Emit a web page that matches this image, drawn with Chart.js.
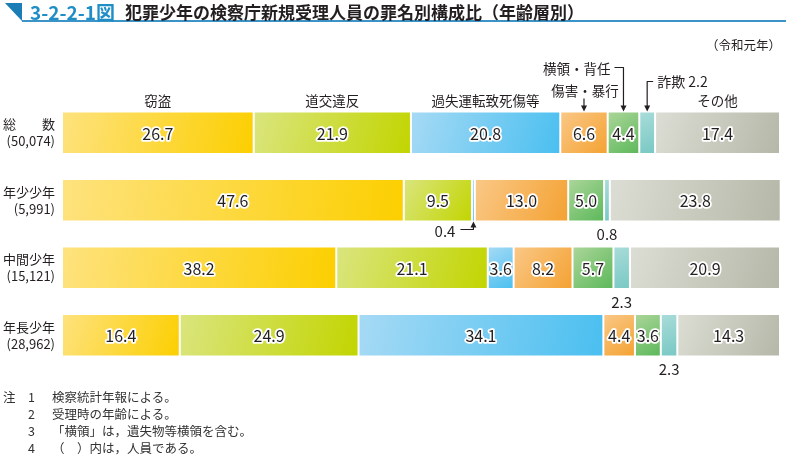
<!DOCTYPE html>
<html>
<head>
<meta charset="utf-8">
<script src="https://cdn.jsdelivr.net/npm/chart.js@4/dist/chart.umd.min.js"></script>
<style>
    body { margin: 0; width: 786px; height: 457px; background: #fff; position: relative; overflow: hidden;
        font-family: "Noto Sans CJK JP", "Noto Sans", sans-serif; color: #231f20; }
    #wrap { position: absolute; left: 0; top: 0; width: 786px; height: 457px; }
    .abs { position: absolute; white-space: nowrap; }
    #tri { left: 5px; top: 3px; width: 0; height: 0; border-top: 18px solid #1b7db5; border-left: 17px solid transparent; }
    #rule { left: 22px; top: 20px; width: 764px; height: 2px; background: #3b93c8; }
    #fig { left: 30px; top: 0px; font-size: 19px; font-weight: bold; color: #1f8dc6; line-height: 24px; }
    #title { left: 125px; top: 1px; font-size: 17px; font-weight: bold; line-height: 22px; }
    #year { right: 5px; top: 37px; font-size: 12.5px; line-height: 16px; }
    #notes { left: 3px; top: 388px; font-size: 12.5px; line-height: 17px; color: #333; }
    #notes span { display: inline-block; }
</style>
</head>
<body>
<div id="wrap"><canvas id="chart" width="786" height="457"></canvas></div>
<div class="abs" id="tri"></div>
<div class="abs" id="rule"></div>
<div class="abs" id="fig">3-2-2-1図</div>
<div class="abs" id="title">犯罪少年の検察庁新規受理人員の罪名別構成比（年齢層別）</div>
<div class="abs" id="year">（令和元年）</div>
<div class="abs" id="notes">
    <div><span style="width:25px">注</span><span style="width:24px">1</span>検察統計年報による。</div>
    <div><span style="width:25px"></span><span style="width:24px">2</span>受理時の年齢による。</div>
    <div><span style="width:25px"></span><span style="width:24px">3</span>「横領」は，遺失物等横領を含む。</div>
    <div><span style="width:25px"></span><span style="width:24px">4</span>（　）内は，人員である。</div>
</div>
<script>
// 年齢層 (人員)
const ageGroups = [["総　　数", "(50,074)"], ["年少少年", "(5,991)"], ["中間少年", "(15,121)"], ["年長少年", "(28,962)"]];
const crimeNames = ["窃盗", "道交違反", "過失運転致死傷等", "傷害・暴行", "横領・背任", "詐欺", "その他"];

// 構成比 (%)
const theft = [26.7, 47.6, 38.2, 16.4];
const traffic = [21.9, 9.5, 21.1, 24.9];
const negligentDriving = [20.8, 0.4, 3.6, 34.1];
const assault = [6.6, 13.0, 8.2, 4.4];
const embezzlement = [4.4, 5.0, 5.7, 3.6];
const fraud = [2.2, 0.8, 2.3, 2.3];
const others = [17.4, 23.8, 20.9, 14.3];

const seriesValues = [theft, traffic, negligentDriving, assault, embezzlement, fraud, others];
// light -> dark gradient stops
const colorStops = [
    ["#fee27e", "#fccf00"],
    ["#dae57e", "#c2d500"],
    ["#a6daf5", "#4abff0"],
    ["#fac887", "#f4a232"],
    ["#acd69a", "#5cb85a"],
    ["#a9dcd9", "#78c8c4"],
    ["#dcddd4", "#b5b8a8"]
];

function barFill(ctx) {
    const chart = ctx.chart;
    const d = ctx.datasetIndex;
    const i = ctx.dataIndex;
    const stops = colorStops[d];
    const xs = chart.scales.x;
    const ys = chart.scales.y;
    if (ctx.type !== "data" || !xs || !ys || !chart.chartArea) return stops[1];
    let start = 0;
    for (let k = 0; k < d; k++) start += seriesValues[k][i];
    const x0 = xs.getPixelForValue(start);
    const x1 = xs.getPixelForValue(start + seriesValues[d][i]);
    const yc = ys.getPixelForValue(i);
    const g = chart.ctx.createLinearGradient(x0, yc - 21, x1, yc + 21);
    g.addColorStop(0, stops[0]);
    g.addColorStop(1, stops[1]);
    return g;
}

function arrowHead(c, x, y, dir) {
    c.beginPath();
    c.moveTo(x, y);
    c.lineTo(x - 3, y - 6 * dir);
    c.lineTo(x + 3, y - 6 * dir);
    c.closePath();
    c.fill();
}

const labelPlugin = {
    id: "labels",
    afterDatasetsDraw(chart) {
        const c = chart.ctx;
        c.save();
        c.fillStyle = "#231f20";
        c.strokeStyle = "#231f20";
        c.lineWidth = 1.2;
        chart.data.datasets.forEach((ds, d) => {
            const meta = chart.getDatasetMeta(d);
            meta.data.forEach((el, i) => {
                const v = ds.data[i];
                const cx = (el.x + el.base) / 2;
                const top = el.y - el.height / 2;
                const bottom = el.y + el.height / 2;
                const txt = v.toFixed(1);
                c.textBaseline = "middle";
                if (v >= 3) {
                    c.font = "16px 'Noto Sans CJK JP'";
                    c.textAlign = "center";
                    c.lineJoin = "round";
                    c.lineWidth = 3.5;
                    c.strokeStyle = "#ffffff";
                    c.strokeText(txt, cx, el.y + 1);
                    c.fillText(txt, cx, el.y + 1);
                    c.lineWidth = 1.2;
                    c.strokeStyle = "#231f20";
                } else if (i === 0) {
                    // 詐欺 in 総数 row: label above with arrow
                    c.font = "14px 'Noto Sans CJK JP'";
                    c.textAlign = "left";
                    c.fillText(crimeNames[d] + " " + txt, cx + 10, top - 30);
                    c.beginPath();
                    c.moveTo(cx + 6, top - 30);
                    c.lineTo(cx, top - 30);
                    c.lineTo(cx, top - 3);
                    c.stroke();
                    arrowHead(c, cx, top, 1);
                } else if (v < 0.5) {
                    c.font = "15px 'Noto Sans CJK JP'";
                    c.textAlign = "right";
                    c.fillText(txt, cx - 18, bottom + 10);
                    c.beginPath();
                    c.moveTo(cx - 13, bottom + 8);
                    c.lineTo(cx, bottom + 8);
                    c.lineTo(cx, bottom + 3);
                    c.stroke();
                    arrowHead(c, cx, bottom, -1);
                } else {
                    c.font = "15px 'Noto Sans CJK JP'";
                    c.textAlign = "center";
                    c.fillText(txt, cx, bottom + 13);
                }
                // category names above the 総数 bar
                if (i === 0) {
                    c.font = "13.5px 'Noto Sans CJK JP'";
                    c.textAlign = "center";
                    if (d === 3) {
                        c.fillText(crimeNames[d], cx + 1, top - 21);
                        c.beginPath();
                        c.moveTo(cx, top - 13);
                        c.lineTo(cx, top - 3);
                        c.stroke();
                        arrowHead(c, cx, top, 1);
                    } else if (d === 4) {
                        c.textAlign = "right";
                        c.fillText(crimeNames[d], cx - 13, top - 43);
                        c.beginPath();
                        c.moveTo(cx - 9, top - 44);
                        c.lineTo(cx, top - 44);
                        c.lineTo(cx, top - 3);
                        c.stroke();
                        arrowHead(c, cx, top, 1);
                    } else if (d !== 5) {
                        c.fillText(crimeNames[d], cx, top - 11);
                    }
                }
            });
        });
        c.restore();
    }
};

new Chart(document.getElementById("chart"), {
    type: "bar",
    data: {
        labels: ageGroups,
        datasets: seriesValues.map((vals, d) => ({
            label: crimeNames[d],
            data: vals,
            backgroundColor: barFill,
            borderColor: "#ffffff",
            borderWidth: 1,
            borderSkipped: false,
            barPercentage: 0.63,
            categoryPercentage: 1
        }))
    },
    options: {
        indexAxis: "y",
        responsive: false,
        animation: false,
        layout: { padding: { left: 0, right: 6, top: 99, bottom: 88 } },
        scales: {
            x: { stacked: true, min: 0, max: 100, display: false },
            y: {
                stacked: true,
                grid: { display: false, drawTicks: false },
                border: { display: false },
                afterFit: scale => { scale.width = 62; },
                ticks: {
                    color: "#231f20",
                    padding: 7,
                    font: { family: "'Noto Sans CJK JP'", size: 13, lineHeight: 1.3 }
                }
            }
        },
        plugins: {
            legend: { display: false },
            tooltip: { enabled: false }
        }
    },
    plugins: [labelPlugin]
});
</script>
</body>
</html>
